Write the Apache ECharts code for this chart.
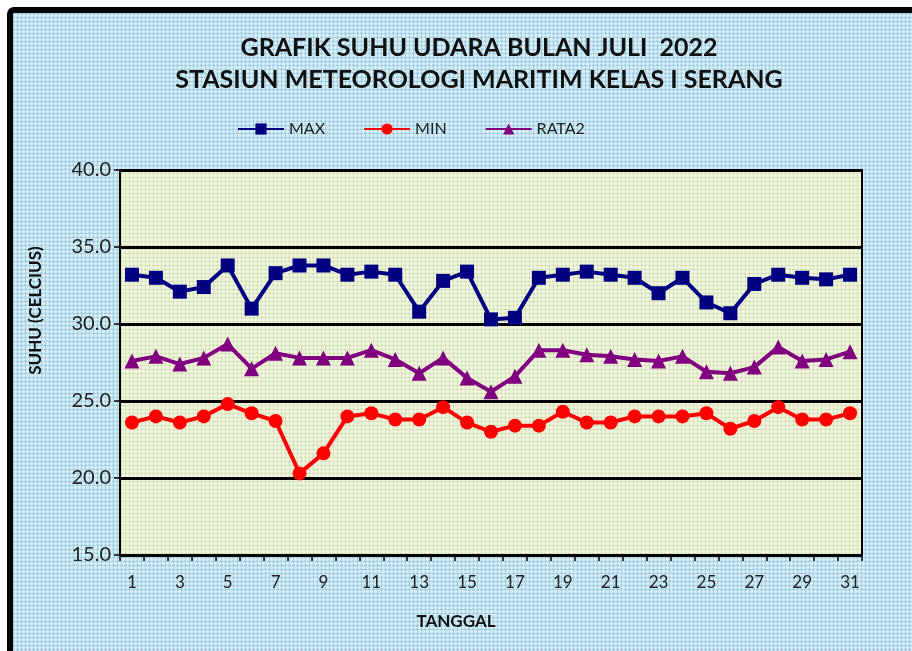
<!DOCTYPE html>
<html>
<head>
<meta charset="utf-8">
<script src="https://cdn.jsdelivr.net/npm/echarts@6/dist/echarts.min.js"></script>
<style>
  html, body { margin: 0; padding: 0; background: #fff; }
  #chart { width: 912px; height: 651px; }
</style>
</head>
<body>
<div id="chart"></div>
<script>
// data
const days = ['1','2','3','4','5','6','7','8','9','10','11','12','13','14','15','16',
  '17','18','19','20','21','22','23','24','25','26','27','28','29','30','31']
const maxTemp = [33.2, 33.0, 32.1, 32.4, 33.8, 31.0, 33.3, 33.8, 33.8, 33.2, 33.4, 33.2, 30.8, 32.8, 33.4, 30.3,
  30.4, 33.0, 33.2, 33.4, 33.2, 33.0, 32.0, 33.0, 31.4, 30.7, 32.6, 33.2, 33.0, 32.9, 33.2]
const minTemp = [23.6, 24.0, 23.6, 24.0, 24.8, 24.2, 23.7, 20.3, 21.6, 24.0, 24.2, 23.8, 23.8, 24.6, 23.6, 23.0,
  23.4, 23.4, 24.3, 23.6, 23.6, 24.0, 24.0, 24.0, 24.2, 23.2, 23.7, 24.6, 23.8, 23.8, 24.2]
const avgTemp = [27.6, 27.9, 27.4, 27.8, 28.7, 27.1, 28.1, 27.8, 27.8, 27.8, 28.3, 27.7, 26.8, 27.8, 26.5, 25.6,
  26.6, 28.3, 28.3, 28.0, 27.9, 27.7, 27.6, 27.9, 26.9, 26.8, 27.2, 28.5, 27.6, 27.7, 28.2]
const yTicks = [15, 20, 25, 30, 35, 40]

const font = 'Lato, "Noto Sans", sans-serif'

// small woven pattern like the fill in the original spreadsheet chart
const makePattern = (base, mid, dot) => {
  const c = document.createElement('canvas')
  c.width = 8
  c.height = 8
  const ctx = c.getContext('2d')
  ctx.fillStyle = base
  ctx.fillRect(0, 0, 8, 8)
  for (let y = 0; y < 8; y++) {
    for (let x = 0; x < 8; x++) {
      if (x % 4 === 1 || y % 4 === 1) {
        ctx.fillStyle = dot
        ctx.fillRect(x, y, 1, 1)
      } else if ((x + y) % 2 === 0) {
        ctx.fillStyle = mid
        ctx.fillRect(x, y, 1, 1)
      }
    }
  }
  return { image: c, repeat: 'repeat' }
}

const chart = echarts.init(document.getElementById('chart'))
chart.setOption({
  backgroundColor: '#ffffff',
  animation: false,
  title: {
    text: 'GRAFIK SUHU UDARA BULAN JULI  2022\nSTASIUN METEOROLOGI MARITIM KELAS I SERANG',
    left: 474,
    top: 27,
    textAlign: 'center',
    textStyle: { fontFamily: font, fontWeight: 'bold', fontSize: 25, lineHeight: 32, color: '#111' }
  },
  legend: {
    left: 232,
    top: 116,
    itemWidth: 46,
    itemHeight: 14,
    itemGap: 38,
    textStyle: { fontFamily: font, fontSize: 16, color: '#222' },
    data: ['MAX', 'MIN', 'RATA2']
  },
  graphic: [
    {
      type: 'rect', z: -10, silent: true,
      shape: { x: 10, y: 10, width: 920, height: 660, r: 4 },
      style: { fill: makePattern('#eef7fb', '#c6e4f0', '#a3d1e5'), stroke: '#000', lineWidth: 6 }
    }
  ],
  grid: {
    left: 120, top: 170, width: 742, height: 385,
    show: true,
    backgroundColor: makePattern('#f8faec', '#eef2d6', '#d7e3bb'),
    borderColor: '#000',
    borderWidth: 2
  },
  xAxis: {
    type: 'category',
    data: days,
    name: 'TANGGAL',
    nameLocation: 'middle',
    nameGap: 58,
    nameTextStyle: { fontFamily: font, fontWeight: 'bold', fontSize: 17, color: '#111', padding: [0, 70, 0, 0] },
    axisLine: { lineStyle: { color: '#000', width: 2 } },
    axisTick: { show: true, interval: 0, length: 6, lineStyle: { color: '#000', width: 1.5 } },
    axisLabel: { interval: 1, margin: 19, fontFamily: font, fontSize: 17, color: '#222' },
    splitLine: { show: false }
  },
  yAxis: {
    type: 'value',
    min: yTicks[0],
    max: yTicks[yTicks.length - 1],
    interval: 5,
    name: 'SUHU (CELCIUS)',
    nameLocation: 'middle',
    nameGap: 76,
    nameTextStyle: { fontFamily: font, fontWeight: 'bold', fontSize: 17, color: '#111', padding: [0, 0, 0, 104] },
    axisLine: { show: true, lineStyle: { color: '#000', width: 2 } },
    axisTick: { show: true, length: 6, lineStyle: { color: '#000', width: 1.5 } },
    axisLabel: { margin: 9, fontFamily: font, fontSize: 20, color: '#222', formatter: v => v.toFixed(1) },
    splitLine: { show: true, lineStyle: { color: '#000', width: 3 } }
  },
  series: [
    {
      name: 'MAX', type: 'line', data: maxTemp,
      symbol: 'rect', symbolSize: 14,
      itemStyle: { color: '#000080' },
      lineStyle: { color: '#000080', width: 4 }
    },
    {
      name: 'MIN', type: 'line', data: minTemp,
      symbol: 'circle', symbolSize: 14,
      itemStyle: { color: '#ff0000' },
      lineStyle: { color: '#ff0000', width: 4 }
    },
    {
      name: 'RATA2', type: 'line', data: avgTemp,
      symbol: 'triangle', symbolSize: 15,
      itemStyle: { color: '#800080' },
      lineStyle: { color: '#800080', width: 4 }
    }
  ]
})
</script>
</body>
</html>
